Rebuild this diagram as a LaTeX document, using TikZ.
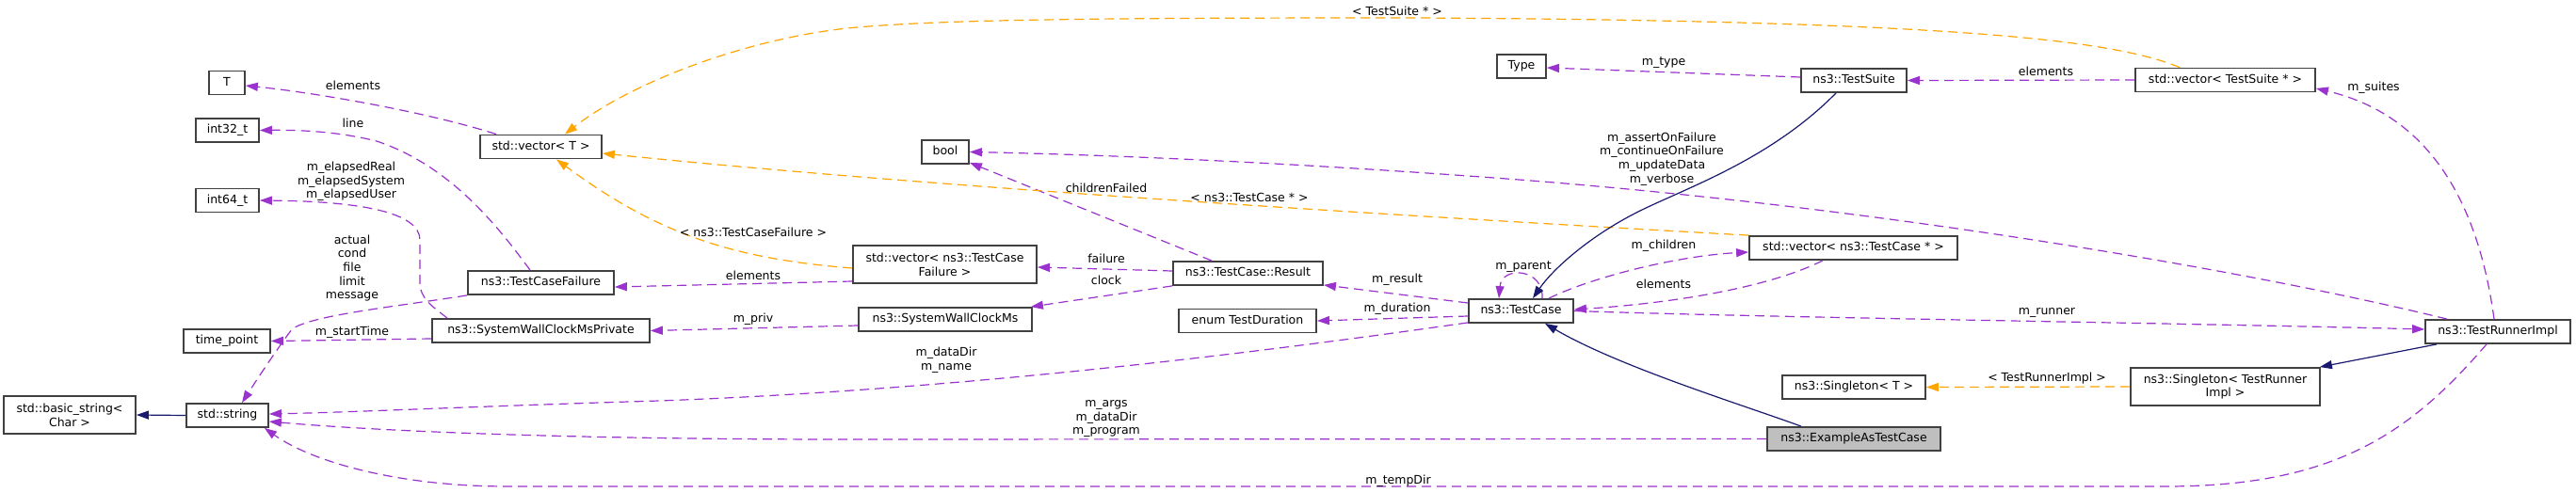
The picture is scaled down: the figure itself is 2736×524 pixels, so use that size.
\documentclass[tikz,border=0pt]{standalone}
\usepackage{fontspec}
\setmainfont{DejaVu Sans}
\usetikzlibrary{arrows.meta,calc}
\definecolor{usecol}{HTML}{9A32CD}
\definecolor{tmplcol}{HTML}{FFA500}
\definecolor{inhcol}{HTML}{191970}
\definecolor{boxcol}{HTML}{404040}
\definecolor{fillgray}{HTML}{BFBFBF}
\begin{document}
\begin{tikzpicture}[x=1pt,y=-1pt,
  font=\fontsize{12.5}{14.7}\selectfont,
  box/.style={draw=boxcol, line width=1.8pt, fill=white, inner sep=0pt,
    minimum height=25pt, text height=9.3pt, text depth=2.6pt},
  boxtwo/.style={draw=boxcol, line width=1.8pt, fill=white, inner sep=0pt,
    minimum height=40pt, align=center},
  lbl/.style={inner sep=0pt, align=center},
  usearrow/.style={draw=usecol, line width=1.2pt, dash pattern=on 10pt off 6pt,
    -{Triangle[length=13pt,width=9pt]}},
  tmplarrow/.style={draw=tmplcol, line width=1.2pt, dash pattern=on 10pt off 6pt,
    -{Triangle[length=13pt,width=9pt]}},
  inharrow/.style={draw=inhcol, line width=1.2pt,
    -{Triangle[length=13pt,width=9pt]}}
]
\useasboundingbox[fill=white] (0,0) rectangle (2736,524);

% ---- nodes ----
\node[box, minimum width=38pt]  (T)        at (241,88)     {T};
\node[box, minimum width=67pt]  (int32)    at (241.5,138.5) {int32\_t};
\node[box, minimum width=67pt]  (int64)    at (241.5,213)  {int64\_t};
\node[box, minimum width=92pt]  (timepoint) at (241,362.5) {time\_point};
\node[box, minimum width=87pt]  (stdstring) at (241.5,441.5) {std::string};
\node[boxtwo, minimum width=140pt] (basicstring) at (74,441) {std::basic\_string\textless\\Char \textgreater};
\node[box, minimum width=129pt] (vecT)     at (574.5,156)  {std::vector\textless{} T \textgreater};
\node[box, minimum width=155pt] (tcf)      at (574.5,300.5) {ns3::TestCaseFailure};
\node[box, minimum width=231pt] (swcmp)    at (574.5,351.5) {ns3::SystemWallClockMsPrivate};
\node[box, minimum width=50pt]  (bool)     at (1004,161.5) {bool};
\node[boxtwo, minimum width=195pt] (vectcf) at (1003.5,281) {std::vector\textless{} ns3::TestCase\\Failure \textgreater};
\node[box, minimum width=184pt] (swcm)     at (1004,339.5) {ns3::SystemWallClockMs};
\node[box, minimum width=159pt] (result)   at (1325.5,290.5) {ns3::TestCase::Result};
\node[box, minimum width=146pt] (duration) at (1325,341)   {enum TestDuration};
\node[box, minimum width=52pt]  (type)     at (1616,70.5)  {Type};
\node[box, minimum width=111pt] (testcase) at (1615.5,330.5) {ns3::TestCase};
\node[box, minimum width=112pt] (testsuite) at (1969,85.5) {ns3::TestSuite};
\node[box, minimum width=221pt] (vectc)    at (1968.5,263.5) {std::vector\textless{} ns3::TestCase * \textgreater};
\node[box, minimum width=152pt] (singT)    at (1969,411.5) {ns3::Singleton\textless{} T \textgreater};
\node[box, minimum width=184pt, fill=fillgray] (eatc) at (1969,466.5) {ns3::ExampleAsTestCase};
\node[box, minimum width=191pt] (vects)    at (2363.5,85)  {std::vector\textless{} TestSuite * \textgreater};
\node[boxtwo, minimum width=201pt] (singTRI) at (2363.5,411) {ns3::Singleton\textless{} TestRunner\\Impl \textgreater};
\node[box, minimum width=154pt] (tri)      at (2653,352.5) {ns3::TestRunnerImpl};

% ---- usage (purple) ----
\draw[usearrow] ($(vecT.north)+(-47.5,0)$) .. controls (450,118) and (330,98) .. ($(T.east)+(0,3)$);
\draw[usearrow] ($(tcf.north)+(-11.5,0)$) .. controls (525,235) and (475,175) .. (400,150) .. controls (360,140) and (320,138) .. (int32.east);
\draw[usearrow] ($(swcmp.north)+(-99.5,0)$) .. controls (460,326) and (446,318) .. (446,300) -- (446,255) .. controls (446,225) and (380,214) .. (int64.east);
\draw[usearrow] (tcf.south west) .. controls (420,326) and (330,335) .. (310,350) .. controls (295,370) and (275,400) .. ($(stdstring.north)+(15.5,0)$);
\draw[usearrow] ($(swcmp.west)+(0,8.5)$) -- (timepoint.east);
\draw[usearrow] ($(vectcf.west)+(0,18)$) -- ($(tcf.east)+(0,4.5)$);
\draw[usearrow] ($(swcm.west)+(0,6.5)$) -- (swcmp.east);
\draw[usearrow] ($(result.west)+(0,-2.5)$) -- ($(vectcf.east)+(0,3)$);
\draw[usearrow] (result.south west) -- ($(swcm.north east)+(-2,0)$);
\draw[usearrow] ($(result.north)+(-38.5,0)$) -- ($(bool.south east)+(0,-2)$);
\draw[usearrow] ($(testcase.west)+(0,-8.5)$) -- ($(result.south east)+(0,-1)$);
\draw[usearrow] ($(testcase.west)+(0,5.5)$) -- (duration.east);
\draw[usearrow] ($(testcase.south west)+(0,-1)$) .. controls (1300,380) and (1000,415) .. (700,426) .. controls (500,432) and (380,438) .. ($(stdstring.east)+(0,-1.5)$);
\draw[usearrow] ($(testcase.north)+(22.5,0)$) .. controls (1640,285) and (1595,282) .. ($(testcase.north)+(-23.5,0)$);
\draw[usearrow] ($(testcase.north)+(29.5,0)$) .. controls (1690,295) and (1780,272) .. ($(vectc.west)+(0,4.5)$);
\draw[usearrow] ($(vectc.south)+(-32.5,0)$) .. controls (1880,305) and (1780,322) .. ($(testcase.east)+(0,-1.5)$);
\draw[usearrow] ($(tri.north)+(-54,0)$) .. controls (2400,290) and (2000,220) .. (1600,190) .. controls (1400,175) and (1200,165) .. (bool.east);
\draw[usearrow] (testcase.east) .. controls (1900,338) and (2300,343) .. ($(tri.west)+(0,-2.5)$);
\draw[usearrow] ($(tri.north)+(-4,0)$) .. controls (2630,200) and (2570,120) .. ($(vects.east)+(0,9)$);
\draw[usearrow] (vects.west) -- (testsuite.east);
\draw[usearrow] ($(testsuite.west)+(0,-3.5)$) -- ($(type.east)+(0,1.5)$);
\draw[usearrow] (eatc.west) -- (900,467) .. controls (600,467) and (400,458) .. ($(stdstring.east)+(0,6.5)$);
\draw[usearrow] ($(tri.south)+(-12,0)$) .. controls (2560,460) and (2480,517) .. (2300,517) -- (540,517) .. controls (420,517) and (330,490) .. ($(stdstring.south east)+(-5,0)$);

% ---- template instantiation (orange) ----
\draw[tmplarrow] ($(vectcf.west)+(0,4)$) .. controls (780,275) and (700,250) .. ($(vecT.south)+(16.5,0)$);
\draw[tmplarrow] (vectc.north west) .. controls (1500,230) and (1000,200) .. ($(vecT.east)+(0,7)$);
\draw[tmplarrow] ($(vects.north)+(-48.5,0)$) .. controls (2250,45) and (2100,22) .. (1500,19) .. controls (1200,19) and (1000,20) .. (900,30) .. controls (790,42) and (670,88) .. ($(vecT.north)+(25.5,0)$);
\draw[tmplarrow] (singTRI.west) -- (singT.east);

% ---- inheritance (navy) ----
\draw[inharrow] ($(testsuite.south)+(-19,0)$) .. controls (1880,170) and (1790,200) .. (1740,225) .. controls (1690,250) and (1650,285) .. ($(testcase.north)+(12.5,0)$);
\draw[inharrow] ($(eatc.north)+(-56,0)$) .. controls (1850,430) and (1720,390) .. ($(testcase.south)+(25.5,0)$);
\draw[inharrow] (stdstring.west) -- (basicstring.east);
\draw[inharrow] ($(tri.south)+(-65,0)$) -- ($(singTRI.north east)+(-1,0)$);

% ---- labels ----
\node[lbl] (lElemT)   at (375,91)  {elements};
\node[lbl] (lLine)    at (375,131) {line};
\node[lbl] (lElapsed) at (373,193) {m\_elapsedReal\\m\_elapsedSystem\\m\_elapsedUser};
\node[lbl] (lActual)  at (374,285) {actual\\cond\\file\\limit\\message};
\node[lbl] (lStart)   at (374,353) {m\_startTime};
\node[lbl] (lTCFtmpl) at (800,247) {\textless{} ns3::TestCaseFailure \textgreater};
\node[lbl] (lElemTCF) at (800,293) {elements};
\node[lbl] (lPriv)    at (800,339) {m\_priv};
\node[lbl] (lChildrenFailed) at (1175,200) {childrenFailed};
\node[lbl] (lFailure) at (1175,275) {failure};
\node[lbl] (lClock)   at (1175,298) {clock};
\node[lbl] (lTCtmpl)  at (1327,210) {\textless{} ns3::TestCase * \textgreater};
\node[lbl] (lDataDir) at (1005,383) {m\_dataDir\\m\_name};
\node[lbl] (lArgs)    at (1175,445) {m\_args\\m\_dataDir\\m\_program};
\node[lbl] (lResult)  at (1484,297) {m\_result};
\node[lbl] (lDuration) at (1484,328) {m\_duration};
\node[lbl] (lTemp)    at (1485,511) {m\_tempDir};
\node[lbl] (lTS)      at (1484,12)  {\textless{} TestSuite * \textgreater};
\node[lbl] (lParent)  at (1618,284) {m\_parent};
\node[lbl] (lChildren) at (1767,261) {m\_children};
\node[lbl] (lElemTC)  at (1767,302) {elements};
\node[lbl] (lAssert)  at (1765,169) {m\_assertOnFailure\\m\_continueOnFailure\\m\_updateData\\m\_verbose};
\node[lbl] (lType)    at (1767,67)  {m\_type};
\node[lbl] (lElemTS)  at (2173,76)  {elements};
\node[lbl] (lSuites)  at (2521,93)  {m\_suites};
\node[lbl] (lRunner)  at (2174,332) {m\_runner};
\node[lbl] (lTRItmpl) at (2174,402) {\textless{} TestRunnerImpl \textgreater};
\end{tikzpicture}
\end{document}
